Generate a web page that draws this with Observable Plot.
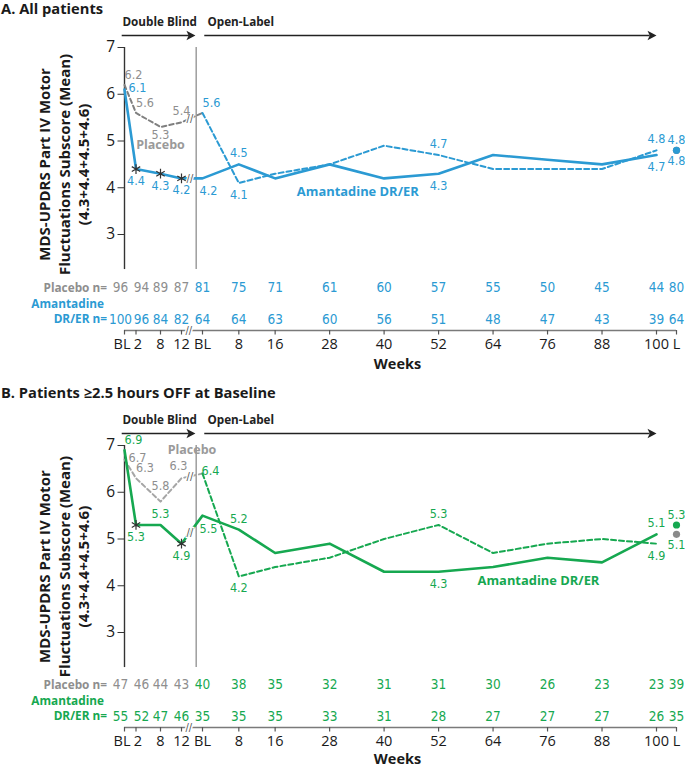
<!DOCTYPE html>
<html>
<head>
<meta charset="utf-8">
<script src="https://cdn.jsdelivr.net/npm/d3@7"></script>
<script src="https://cdn.jsdelivr.net/npm/@observablehq/plot@0.6"></script>
<style>
  html, body { margin: 0; padding: 0; background: #fff; }
  #wrap { position: relative; width: 685px; height: 767px; overflow: hidden; background: #fff; }
  .ptitle { position: absolute; left: 1px; font-family: "Open Sans", Lato, sans-serif; font-weight: bold;
            font-size: 14.7px; line-height: 16px; color: #1a1a1a; white-space: nowrap; z-index: 2; }
  .panel { position: absolute; left: 0; }
  .panel svg { display: block; overflow: visible; }
</style>
</head>
<body>
<div id="wrap"></div>
<script>
// ---------------- DATA ----------------
const dbWeeks = [0, 2, 8, 12];
const olWeeks = [0, 8, 16, 28, 40, 52, 64, 76, 88, 100];
const tickLabels = ["BL", "2", "8", "12", "BL", "8", "16", "28", "40", "52", "64", "76", "88", "100", "L"];

// Panel A: All patients
const aAmaDB = [6.1, 4.4, 4.3, 4.2];
const aPboDB = [6.2, 5.6, 5.3, 5.4];
const aAmaOL = [4.2, 4.5, 4.2, 4.5, 4.2, 4.3, 4.7, 4.6, 4.5, 4.7];
const aPboOL = [5.6, 4.1, 4.3, 4.5, 4.9, 4.7, 4.4, 4.4, 4.4, 4.8];
const aAmaLast = 4.8;
const aPboLast = 4.8;
const aSigWeeks = [2, 8, 12];
const aPboN = [96, 94, 89, 87, 81, 75, 71, 61, 60, 57, 55, 50, 45, 44, 80];
const aAmaN = [100, 96, 84, 82, 64, 64, 63, 60, 56, 51, 48, 47, 43, 39, 64];

// Panel B: Patients >=2.5 hours OFF at baseline
const bAmaDB = [6.9, 5.3, 5.3, 4.9];
const bPboDB = [6.7, 6.3, 5.8, 6.3];
const bAmaOL = [5.5, 5.2, 4.7, 4.9, 4.3, 4.3, 4.4, 4.6, 4.5, 5.1];
const bPboOL = [6.4, 4.2, 4.4, 4.6, 5.0, 5.3, 4.7, 4.9, 5.0, 4.9];
const bAmaLast = 5.3;
const bPboLast = 5.1;
const bSigWeeks = [2, 12];
const bPboN = [47, 46, 44, 43, 40, 38, 35, 32, 31, 31, 30, 26, 23, 23, 39];
const bAmaN = [55, 52, 47, 46, 35, 35, 35, 33, 31, 28, 27, 27, 27, 26, 35];

const yTicks = [3, 4, 5, 6, 7];
const yTitle = "MDS-UPDRS Part IV Motor\nFluctuations Subscore (Mean)\n(4.3+4.4+4.5+4.6)";

// ---------------- LAYOUT / STYLE ----------------
const FONT = "'Open Sans', Lato, sans-serif";
const NUMFONT = "'Liberation Sans Narrow', 'Arial Narrow', 'DejaVu Sans Condensed', 'Liberation Sans', sans-serif";
const BLUE = "#2b9ad3", GREEN = "#16a850", GRAY_TXT = "#8e8e8e", INK = "#1a1a1a";
const PPU = 46.75;
// piecewise position scale: DB weeks -> u = w, OL weeks -> u = 20 + w, Last -> 125
const posDB = w => w, posOL = w => 20 + w, POS_L = 125;
const X_DOMAIN = [0, 2, 8, 12, 20, 120, 125];
const X_RANGE = [124, 135.5, 160, 181, 202, 656, 676];
const SEP_U = 17.6, BREAK_U = 14.8, Y_AX_LOW = 2.25, ARROW_V = 7.257, PHASE_V = 7.54, YTITLE_U = -10.6;
// small horizontal nudges of tick / n labels at the crowded double-blind start
const TICK_NUDGE = {0: -2.5, 2: 2};
const N_NUDGE = {0: -4, 2: 5.5};

const OFFS = {a: [0, -11], a2: [0, -16], b: [0, 12], b2: [0, 8], r: [13, -2], r2: [8, -3],
              ar: [9, -10], br: [6, 13], al: [-3, -12], La: [0, -10], Lb: [0, 11]};

const arrowHead = {
  draw(ctx, size) {
    const s = Math.sqrt(size / Math.PI);
    ctx.moveTo(s * 1.25, 0);
    ctx.lineTo(-s * 1.0, -s * 1.2);
    ctx.lineTo(-s * 0.45, 0);
    ctx.lineTo(-s * 1.0, s * 1.2);
    ctx.closePath();
  }
};

const panels = [
  {id: "A", title: "A. All patients", titleTop: 0, top: 0, height: 383, y7: 47, axisY: 330,
   color: BLUE, pboLine: "#808080", weeksDy: 34,
   amaDB: aAmaDB, pboDB: aPboDB, amaOL: aAmaOL, pboOL: aPboOL, amaL: aAmaLast, pboL: aPboLast,
   sig: aSigWeeks, pboN: aPboN, amaN: aAmaN, yTitleV: 4.5,
   codes: {amaDB: ["r", "b", "b", "b"], pboDB: ["ar", "ar", "b2", "a"],
           amaOL: {0: "br", 8: "a", 52: "b", 100: "b"}, pboOL: {0: "ar", 8: "b", 52: "a", 100: "a"},
           amaL: "Lb", pboL: "La"},
   pboText: {u: 8, v: 4.91}, amaText: {u: 54.2, v: 3.91}},
  {id: "B", title: "B. Patients \u22652.5 hours OFF at Baseline", titleTop: 384, top: 383, height: 384, y7: 62, axisY: 344,
   color: GREEN, pboLine: "#a6a6a6", weeksDy: 32,
   amaDB: bAmaDB, pboDB: bPboDB, amaOL: bAmaOL, pboOL: bPboOL, amaL: bAmaLast, pboL: bPboLast,
   sig: bSigWeeks, pboN: bPboN, amaN: bAmaN, yTitleV: 4.41,
   codes: {amaDB: ["ar", "b", "a", "b"], pboDB: ["r", "ar", "a2", "al"],
           amaOL: {0: "br", 8: "a", 52: "b", 100: "a"}, pboOL: {0: "r2", 8: "b", 52: "a", 100: "b"},
           amaL: "La", pboL: "Lb"},
   pboText: {u: 16, v: 6.91}, amaText: {u: 94, v: 4.11}}
];

const tickU = dbWeeks.map(posDB).concat(olWeeks.map(posOL), [POS_L]);
const tickRows = tickU.map((u, i) => ({u, label: tickLabels[i], db: i < 4 ? dbWeeks[i] : null}));

// text marks grouped by a per-row horizontal nudge
function nudgedText(rows, nudgeOf, opts) {
  const groups = d3.group(rows, nudgeOf);
  return Array.from(groups, ([nudge, g]) => Plot.text(g, {...opts, dx: (opts.dx || 0) + nudge}));
}

function buildPanel(cfg) {
  const col = cfg.color;
  const yMin = 7 - (cfg.axisY - cfg.y7) / PPU;
  const amaDBRows = dbWeeks.map((w, i) => ({u: posDB(w), v: cfg.amaDB[i]}));
  const pboDBRows = dbWeeks.map((w, i) => ({u: posDB(w), v: cfg.pboDB[i]}));
  const amaOLRows = olWeeks.map((w, i) => ({u: posOL(w), v: cfg.amaOL[i]}));
  const pboOLRows = olWeeks.map((w, i) => ({u: posOL(w), v: cfg.pboOL[i]}));
  const amaLine = amaDBRows.concat(amaOLRows);
  const pboLink = pboDBRows.concat([pboOLRows[0]]);
  const lastRows = [{u: POS_L, v: cfg.pboL, fill: "#8a8a8a"}, {u: POS_L, v: cfg.amaL, fill: col}];
  const sigRows = cfg.sig.map(w => amaDBRows[dbWeeks.indexOf(w)]);

  // break marks on the lines between DB week 12 and OL baseline
  const bu = BREAK_U + 0.4, frac = (bu - 12) / 8;
  const lineBreaks = [
    {u: bu, v: cfg.amaDB[3] + (cfg.amaOL[0] - cfg.amaDB[3]) * frac},
    {u: bu, v: cfg.pboDB[3] + (cfg.pboOL[0] - cfg.pboDB[3]) * frac}
  ];

  // value labels
  const lab = [];
  cfg.codes.amaDB.forEach((c, i) => c && lab.push({...amaDBRows[i], code: c, fill: col}));
  cfg.codes.pboDB.forEach((c, i) => c && lab.push({...pboDBRows[i], code: c, fill: GRAY_TXT}));
  olWeeks.forEach((w, i) => {
    if (cfg.codes.amaOL[w]) lab.push({...amaOLRows[i], code: cfg.codes.amaOL[w], fill: col});
    if (cfg.codes.pboOL[w]) lab.push({...pboOLRows[i], code: cfg.codes.pboOL[w], fill: col});
  });
  lab.push({u: POS_L, v: cfg.amaL, code: cfg.codes.amaL, fill: col});
  lab.push({u: POS_L, v: cfg.pboL, code: cfg.codes.pboL, fill: col});
  const labelMarks = Object.entries(OFFS).map(([code, [dx, dy]]) =>
    Plot.text(lab.filter(d => d.code === code), {
      x: "u", y: "v", text: d => d.v.toFixed(1), fill: "fill", dx, dy,
      fontFamily: NUMFONT, fontSize: 12.5
    }));

  // n rows
  const pboNRows = cfg.pboN.map((n, i) => ({...tickRows[i], n, fill: i < 4 ? GRAY_TXT : col}));
  const amaNRows = cfg.amaN.map((n, i) => ({...tickRows[i], n, fill: col}));
  const nNudge = d => N_NUDGE[d.db] || 0;
  const nOpts = {x: "u", frameAnchor: "bottom", lineAnchor: "middle", textAnchor: "middle", text: "n", fill: "fill",
                 fontFamily: NUMFONT, fontSize: 13.5};

  const boldLabel = (txt, opts) => Plot.text([txt], {text: d => d, fontWeight: "bold", fontFamily: FONT,
                                                       lineAnchor: "middle", ...opts});

  return Plot.plot({
    width: 685, height: cfg.height,
    marginTop: cfg.y7, marginBottom: cfg.height - cfg.axisY, marginLeft: 124, marginRight: 9,
    x: {type: "linear", domain: X_DOMAIN, range: X_RANGE, axis: null},
    y: {type: "linear", domain: [yMin, 7], range: [cfg.axisY, cfg.y7], axis: null},
    style: {fontFamily: FONT, fontSize: "14px", color: INK, background: "transparent", overflow: "visible"},
    marks: [
      // y axis
      Plot.ruleX([0], {y1: Y_AX_LOW, y2: 7, stroke: "#333", strokeWidth: 1.4}),
      Plot.ruleX([SEP_U], {y1: Y_AX_LOW, y2: 7, stroke: "#9d9d9d", strokeWidth: 1.5}),
      Plot.axisY({ticks: yTicks, tickFormat: d => String(d), tickSize: 6.5, tickPadding: 3, fontSize: 15.5,
                  stroke: "#333", label: null}),
      // x axis (line, ticks, labels)
      Plot.ruleY([yMin], {x1: 0, x2: POS_L, stroke: "#7a7a7a", strokeWidth: 1.5}),
      Plot.ruleX(tickRows, {x: "u", y1: yMin, y2: yMin - 4.5 / PPU, stroke: "#555", strokeWidth: 1.2}),
      ...nudgedText(tickRows, d => TICK_NUDGE[d.db] || 0,
                    {x: "u", frameAnchor: "bottom", lineAnchor: "middle", textAnchor: "middle", dy: 13.5,
                     text: "label", fontSize: 14.5, fill: INK}),
      Plot.text([{u: BREAK_U, v: yMin}], {x: "u", y: "v", text: () => "//", fill: "#555", stroke: "white",
                 strokeWidth: 3, paintOrder: "stroke", fontSize: 11, fontFamily: NUMFONT}),
      // phase arrows
      Plot.ruleY([ARROW_V], {x1: -0.4, x2: 15, stroke: "#222", strokeWidth: 1.3}),
      Plot.dot([{u: 15.4, v: ARROW_V}], {x: "u", y: "v", symbol: arrowHead, r: 4, fill: "#222"}),
      Plot.ruleY([ARROW_V], {x1: 20.5, x2: 118.6, stroke: "#222", strokeWidth: 1.3}),
      Plot.dot([{u: 118.9, v: ARROW_V}], {x: "u", y: "v", symbol: arrowHead, r: 4, fill: "#222"}),
      Plot.text([{u: 7.8, v: PHASE_V, t: "Double Blind"}], {x: "u", y: "v", text: "t", fontWeight: "bold", fontSize: 11.7, fill: "#222"}),
      Plot.text([{u: 21.1, v: PHASE_V, t: "Open-Label"}], {x: "u", y: "v", text: "t", textAnchor: "start", fontWeight: "bold", fontSize: 11.7, fill: "#222"}),
      // y axis title
      Plot.text([{u: YTITLE_U, v: cfg.yTitleV, t: yTitle}], {x: "u", y: "v", text: "t", textAnchor: "middle", lineAnchor: "middle",
                 rotate: -90, lineHeight: 1.3, fontWeight: "bold", fontSize: 15, fill: INK}),
      // data lines
      Plot.line(pboLink, {x: "u", y: "v", stroke: cfg.pboLine, strokeWidth: 2, strokeDasharray: "4.5,3"}),
      Plot.line(pboOLRows, {x: "u", y: "v", stroke: col, strokeWidth: 2, strokeDasharray: "5,3"}),
      Plot.line(amaLine, {x: "u", y: "v", stroke: col, strokeWidth: 2.6}),
      Plot.text(lineBreaks, {x: "u", y: "v", text: () => "//", fill: "#555", stroke: "white", strokeWidth: 2.5,
                 paintOrder: "stroke", fontSize: 11, fontFamily: NUMFONT}),
      Plot.dot(sigRows, {x: "u", y: "v", symbol: "asterisk", r: 4.6, stroke: "#333", strokeWidth: 1.2}),
      Plot.dot(lastRows, {x: "u", y: "v", fill: "fill", r: 3.6}),
      ...labelMarks,
      // series labels
      Plot.text([{...cfg.pboText, t: "Placebo"}], {x: "u", y: "v", text: "t", fontWeight: "bold", fontSize: 12.5, fill: "#9a9a9a"}),
      Plot.text([{...cfg.amaText, t: "Amantadine DR/ER"}], {x: "u", y: "v", text: "t", fontWeight: "bold", fontSize: 12.9, fill: col}),
      // n rows
      ...nudgedText(pboNRows, nNudge, {...nOpts, dy: -42.5}),
      ...nudgedText(amaNRows, nNudge, {...nOpts, dy: -11}),
      boldLabel("Placebo n=", {frameAnchor: "bottom-left", textAnchor: "end", dx: -17.5, dy: -42.5, fontSize: 11.8, fill: GRAY_TXT}),
      boldLabel("Amantadine", {frameAnchor: "bottom-left", textAnchor: "end", dx: -20.5, dy: -26.5, fontSize: 11.8, fill: col}),
      boldLabel("DR/ER n=", {frameAnchor: "bottom-left", textAnchor: "end", dx: -17.5, dy: -11, fontSize: 11.8, fill: col}),
      // x axis title
      boldLabel("Weeks", {frameAnchor: "bottom", textAnchor: "middle", dx: -3, dy: cfg.weeksDy, fontSize: 14.5, fill: INK})
    ]
  });
}

const wrap = document.getElementById("wrap");
for (const cfg of panels) {
  const div = document.createElement("div");
  div.className = "panel";
  div.style.top = cfg.top + "px";
  div.appendChild(buildPanel(cfg));
  wrap.appendChild(div);
  const t = document.createElement("div");
  t.className = "ptitle";
  t.style.top = cfg.titleTop + "px";
  t.textContent = cfg.title;
  wrap.appendChild(t);
}
</script>
</body>
</html>
